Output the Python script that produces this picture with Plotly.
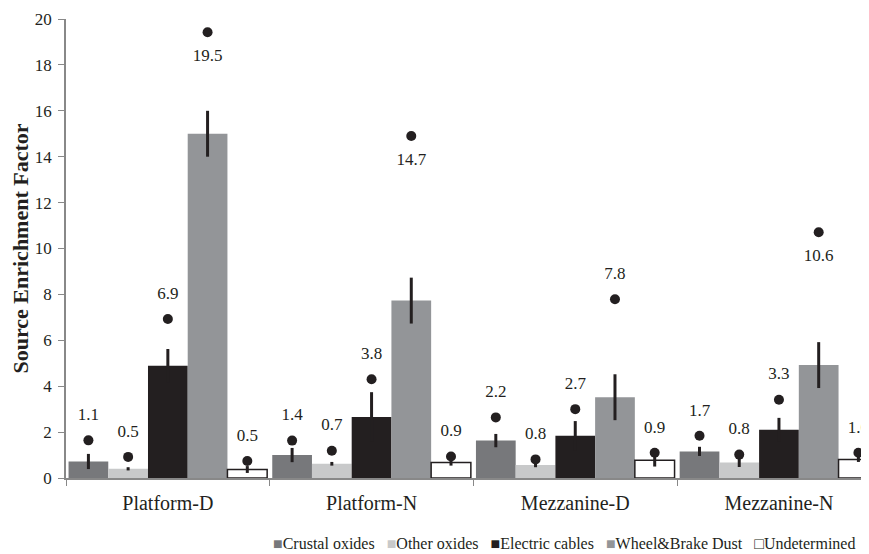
import plotly.graph_objects as go

categories = ["Platform-D", "Platform-N", "Mezzanine-D", "Mezzanine-N"]
series_names = ["Crustal oxides", "Other oxides", "Electric cables", "Wheel&Brake Dust", "Undetermined"]

crustal_mean = [0.72, 1.00, 1.63, 1.16]
crustal_err = [0.33, 0.31, 0.29, 0.20]
crustal_dot = [1.64, 1.63, 2.64, 1.84]
crustal_label = ["1.1", "1.4", "2.2", "1.7"]

other_mean = [0.40, 0.62, 0.57, 0.68]
other_err = [0.07, 0.08, 0.10, 0.20]
other_dot = [0.92, 1.19, 0.81, 1.02]
other_label = ["0.5", "0.7", "0.8", "0.8"]

electric_mean = [4.89, 2.66, 1.84, 2.10]
electric_err = [0.73, 1.08, 0.64, 0.52]
electric_dot = [6.93, 4.30, 3.00, 3.41]
electric_label = ["6.9", "3.8", "2.7", "3.3"]

wheel_mean = [15.0, 7.73, 3.52, 4.92]
wheel_err = [1.0, 1.0, 1.0, 1.0]
wheel_dot = [19.42, 14.90, 7.79, 10.71]
wheel_label = ["19.5", "14.7", "7.8", "10.6"]

undet_mean = [0.37, 0.68, 0.77, 0.81]
undet_err = [0.15, 0.14, 0.27, 0.11]
undet_dot = [0.74, 0.94, 1.10, 1.10]
undet_label = ["0.5", "0.9", "0.9", "1.0"]

y_ticks = [0, 2, 4, 6, 8, 10, 12, 14, 16, 18, 20]

means = [crustal_mean, other_mean, electric_mean, wheel_mean, undet_mean]
errs = [crustal_err, other_err, electric_err, wheel_err, undet_err]
dots = [crustal_dot, other_dot, electric_dot, wheel_dot, undet_dot]
labels = [crustal_label, other_label, electric_label, wheel_label, undet_label]

colors = ["#77787b", "#c8c9ca", "#231f20", "#939598", "#ffffff"]
line_colors = ["#77787b", "#c8c9ca", "#231f20", "#939598", "#231f20"]
line_widths = [0, 0, 0, 0, 1.5]
legend_glyph = ["■", "■", "■", "■", "□"]
legend_glyph_color = ["#77787b", "#c8c9ca", "#231f20", "#939598", "#231f20"]
text_pos = [["top center"] * 4, ["top center"] * 4, ["top center"] * 4,
            ["bottom center", "bottom center", "top center", "bottom center"],
            ["top center"] * 4]

FONT = "Liberation Serif, Times New Roman, serif"
INK = "#231f20"

fig = go.Figure()
for i, name in enumerate(series_names):
    fig.add_trace(go.Bar(
        x=categories, y=means[i], name=name, offsetgroup=f"g{i}",
        marker=dict(color=colors[i], line=dict(color=line_colors[i], width=line_widths[i])),
        error_y=dict(type="data", array=errs[i], color=INK, thickness=3, width=0),
        showlegend=False,
    ))
for i, name in enumerate(series_names):
    fig.add_trace(go.Scatter(
        x=categories, y=dots[i], mode="markers", offsetgroup=f"g{i}",
        marker=dict(color=INK, size=10), showlegend=False, hoverinfo="skip",
    ))
    fig.add_trace(go.Scatter(
        x=categories, y=dots[i], mode="markers+text", offsetgroup=f"g{i}",
        marker=dict(color="rgba(0,0,0,0)", size=24),
        text=labels[i], textposition=text_pos[i],
        textfont=dict(family=FONT, size=17, color=INK),
        showlegend=False, hoverinfo="skip", cliponaxis=False,
    ))

legend_parts = []
for i, name in enumerate(series_names):
    legend_parts.append(
        f"<span style='color:{legend_glyph_color[i]}'>{legend_glyph[i]}</span>"
        + name.replace("&", "&amp;")
    )
legend_text = "&nbsp;&nbsp;&nbsp;".join(legend_parts)

# the page body adds an 8px offset, so the figure is 8px smaller than the window
fig.update_layout(
    width=861, height=546,
    margin=dict(l=58, r=0, t=11, b=76),
    paper_bgcolor="white", plot_bgcolor="white",
    barmode="group", bargap=0.025, bargroupgap=0,
    scattermode="group", scattergap=0.025,
    font=dict(family=FONT, size=17, color=INK),
    showlegend=False,
    annotations=[dict(
        text=legend_text, xref="paper", yref="paper", x=0.62, y=-0.142,
        xanchor="center", yanchor="middle", showarrow=False,
        font=dict(family=FONT, size=16, color=INK),
    )],
)
fig.update_xaxes(
    type="category", range=[-0.5, 3.442], showline=True, linecolor="#888888", linewidth=1.5,
    ticks="outside", tickson="boundaries", ticklen=6, tickcolor="#888888",
    tickfont=dict(family=FONT, size=20, color=INK), showgrid=False, ticklabelstandoff=6,
)
fig.update_yaxes(
    range=[0, 20], tickvals=y_ticks, showline=True, linecolor="#888888", linewidth=1.5,
    ticks="outside", ticklen=6, tickcolor="#888888", showgrid=False, zeroline=False,
    tickfont=dict(family=FONT, size=17, color=INK), ticklabelstandoff=3,
    title=dict(text="<b>Source Enrichment Factor</b>", font=dict(family=FONT, size=22, color=INK), standoff=4),
)

fig.write_html("out.html")
